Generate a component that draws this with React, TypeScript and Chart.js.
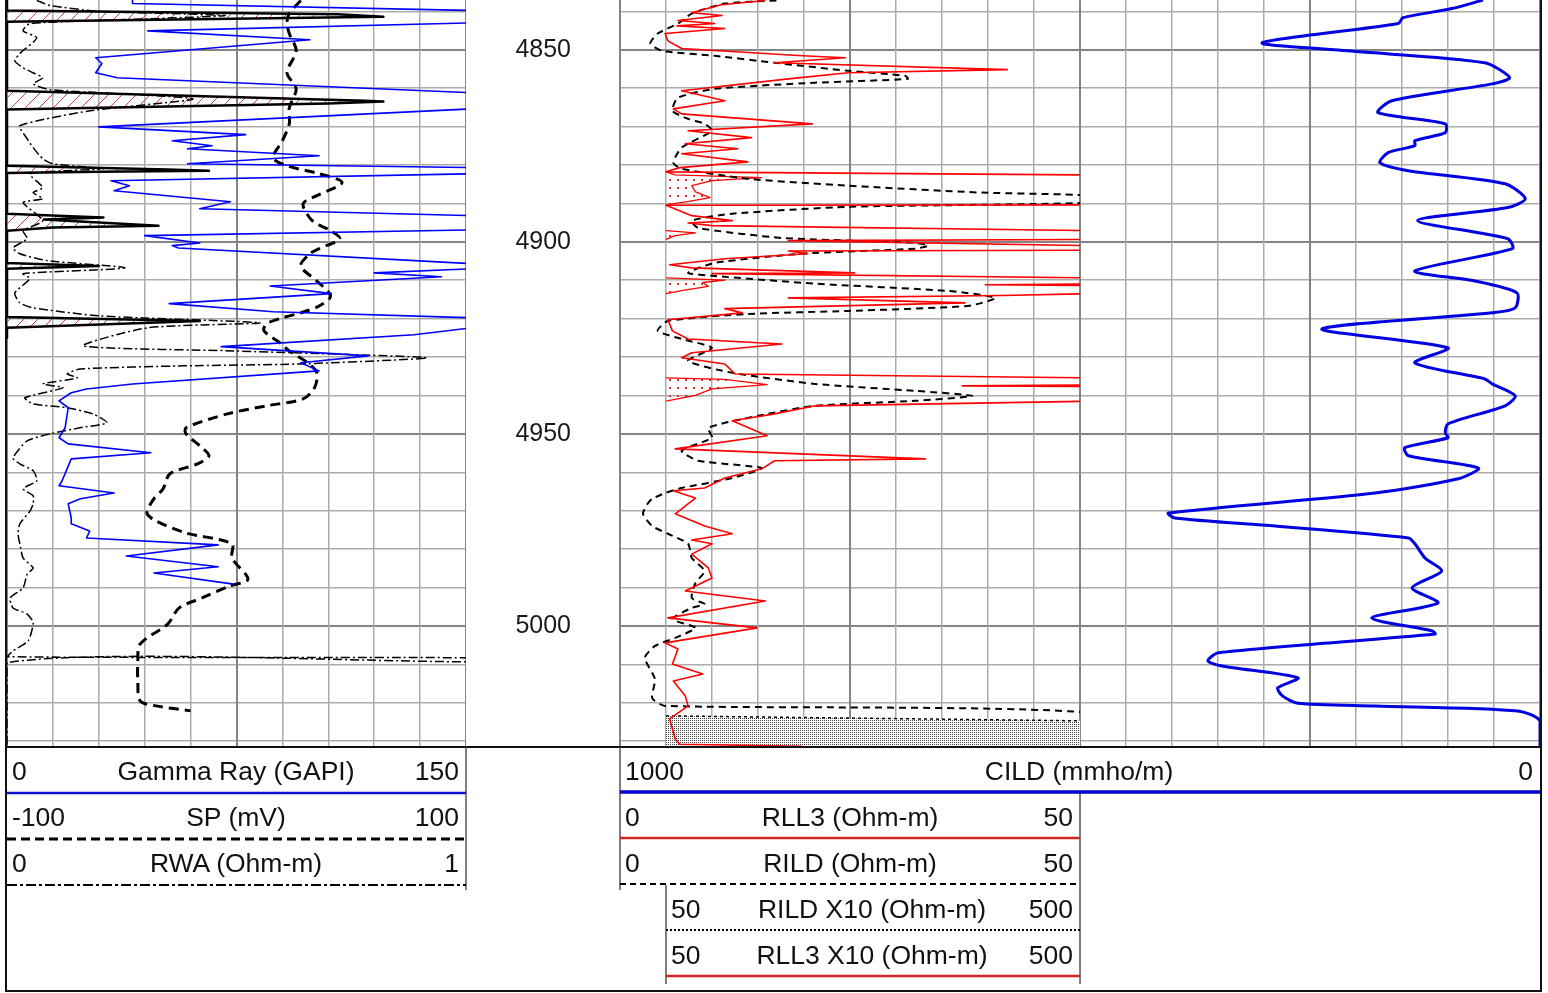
import React, { useEffect, useRef } from 'react';
import { Chart, registerables } from 'chart.js';

Chart.register(...registerables);

const FONT = "'Liberation Sans', Arial, Helvetica, sans-serif";
Chart.defaults.font.family = FONT;

// ---------- depth range / labels ----------
const DEPTH_TOP = 4837.07;
const DEPTH_BOTTOM = 5031.5;
const DEPTH_LABELS = [4850, 4900, 4950, 5000];

type Pair = [number, number | null];

// ---------- Track 1 ----------
// Gamma Ray (GAPI), 0..150  [depth, value]
const grCurve: Pair[] = [
  [4837.2, 41], [4838.0, 41], [4839.8, 152], [4843.0, 152], [4845.1, 46], [4847.4, 99],
  [4852.1, 29], [4853.6, 31], [4856.0, 29], [4857.3, 36], [4861.2, 152], [4865.4, 152],
  [4870.1, 30], [4872.1, 78], [4873.7, 54], [4875.0, 67], [4875.8, 59], [4877.6, 102],
  [4879.7, 59], [4880.7, 152], [4882.3, 152], [4884.1, 34], [4885.4, 40], [4886.7, 35],
  [4889.6, 73], [4891.4, 63], [4893.2, 152], [4896.9, 152], [4898.4, 45], [4900.3, 63],
  [4901.0, 54], [4901.6, 56], [4905.7, 152], [4907.0, 152], [4908.1, 120], [4909.1, 142],
  [4911.5, 86], [4913.5, 106], [4916.1, 53], [4918.2, 87], [4919.8, 152], [4922.4, 152],
  [4924.2, 133], [4927.3, 70], [4929.7, 118], [4931.5, 96], [4933.6, 102], [4937.0, 41],
  [4938.3, 26], [4939.3, 21], [4941.4, 17], [4943.2, 20], [4948.4, 19], [4951.0, 17],
  [4952.6, 20], [4954.9, 47], [4956.5, 21], [4962.2, 18], [4963.5, 17], [4965.4, 35],
  [4966.9, 24], [4968.2, 20], [4971.9, 21], [4973.4, 21], [4975.3, 27], [4977.1, 26],
  [4978.9, 69], [4981.8, 39], [4984.6, 69], [4986.2, 48], [4989.1, 74],
];

// SP (mV), -100..100
const spCurve: Pair[] = [
  [4837.2, 28], [4840.6, 23], [4843.0, 22], [4845.8, 23], [4850.3, 26], [4856.0, 22],
  [4860.2, 26], [4865.1, 23], [4869.3, 23], [4873.7, 20], [4878.1, 16], [4880.2, 22],
  [4882.3, 36], [4884.6, 46], [4888.0, 35], [4890.1, 29], [4894.5, 33], [4897.1, 41],
  [4899.2, 45], [4901.8, 36], [4903.1, 32], [4906.3, 28], [4910.2, 35], [4914.1, 41],
  [4916.7, 36], [4918.5, 28], [4919.8, 20], [4921.4, 13], [4923.2, 12], [4926.3, 19],
  [4928.4, 23], [4931.5, 31], [4934.1, 35], [4938.0, 34], [4940.9, 29], [4942.7, 13],
  [4944.8, -4], [4948.4, -22], [4950.0, -22], [4953.1, -16], [4955.7, -12], [4957.8, -17],
  [4960.4, -29], [4964.3, -32], [4966.9, -36], [4970.6, -39], [4972.7, -35], [4975.8, -22],
  [4978.6, -2], [4982.3, -2], [4987.8, 5], [4989.6, -3], [4992.7, -15], [4995.3, -25],
  [4999.5, -30], [5004.7, -42], [5009.1, -43], [5014.3, -43], [5019.5, -42], [5020.8, -35],
  [5022.1, -20],
];

// RWA (Ohm-m), 0..1
const rwaCurve: Pair[] = [
  [4837.2, 0.065], [4838.5, 0.094], [4840.0, 0.2], [4841.1, 0.475], [4842.0, 0.3], [4843.2, 0.05],
  [4845.1, 0.035], [4846.9, 0.065], [4851.0, 0.028], [4852.9, 0.017], [4854.7, 0.035], [4856.0, 0.057],
  [4857.3, 0.078], [4858.9, 0.057], [4860.4, 0.094], [4862.8, 0.405], [4865.9, 0.181], [4869.8, 0.028],
  [4873.2, 0.044], [4875.5, 0.057], [4878.4, 0.078], [4879.7, 0.1], [4881.0, 0.203], [4882.3, 0.05],
  [4885.9, 0.078], [4887.2, 0.057], [4888.8, 0.078], [4889.8, 0.035], [4894.5, 0.078], [4897.1, 0.035],
  [4899.2, 0.044], [4901.6, 0.013], [4903.1, 0.028], [4904.9, 0.087], [4906.8, 0.257], [4908.3, 0.035],
  [4909.6, 0.05], [4913.3, 0.017], [4915.9, 0.028], [4917.2, 0.057], [4919.3, 0.203], [4921.1, 0.551],
  [4922.4, 0.305], [4927.1, 0.166], [4928.4, 0.492], [4930.2, 0.915], [4931.8, 0.638], [4932.3, 0.383],
  [4933.1, 0.159], [4934.4, 0.131], [4935.4, 0.153], [4937.0, 0.078], [4938.0, 0.122], [4940.6, 0.039],
  [4942.2, 0.057], [4943.2, 0.131], [4944.8, 0.187], [4947.1, 0.218], [4948.4, 0.159], [4950.0, 0.094],
  [4951.8, 0.044], [4956.3, 0.013], [4957.8, 0.028], [4959.6, 0.057], [4962.2, 0.065], [4964.3, 0.035],
  [4966.1, 0.057], [4968.2, 0.057], [4970.1, 0.05], [4973.4, 0.028], [4976.0, 0.024], [4978.6, 0.028],
  [4982.3, 0.035], [4984.9, 0.057], [4986.5, 0.044], [4990.1, 0.035], [4992.7, 0.007], [4995.3, 0.013],
  [4996.9, 0.044], [4999.2, 0.057], [5003.9, 0.046], [5006.5, 0.013], [5008.0, 0.0], [5008.3, 1.02],
  [5009.3, 1.02], [5009.6, 0.0], [5031.5, 0.0],
];

// hatched spike curve (black, red hatch fill), 0..100 % of track
const hatchCurve: Pair[] = [
  [4837.2, 0], [4839.8, 0], [4840.8, 72], [4841.4, 82], [4842.7, 0],
  [4860.7, 0], [4863.3, 78], [4863.5, 82], [4864.0, 70], [4865.6, 0],
  [4880.2, 0], [4881.2, 35], [4881.5, 44], [4881.8, 20], [4882.1, 0],
  [4892.7, 0], [4893.7, 21], [4894.2, 8], [4895.8, 33], [4896.3, 10], [4897.1, 0],
  [4905.5, 0], [4906.3, 20], [4907.0, 0],
  [4919.6, 0], [4920.6, 42], [4922.4, 0], [4925.0, 0],
];

// ---------- Track 2 ----------
// RLL3 (Ohm-m), 0..50
const rll3Curve: Pair[] = [
  [4837.2, 15.8], [4838.3, 11.0], [4840.4, 7.8], [4841.1, 11.1], [4842.4, 6.3], [4843.2, 10.3],
  [4843.8, 6.2], [4844.5, 11.4], [4845.8, 4.9], [4847.7, 5.2], [4849.7, 6.7], [4851.6, 19.8],
  [4852.1, 24.5], [4853.4, 16.8], [4855.2, 42.1], [4856.0, 24.8], [4857.6, 18.3], [4860.7, 6.7],
  [4863.3, 11.4], [4865.4, 5.8], [4866.7, 6.7], [4869.3, 20.9], [4871.1, 7.4], [4872.9, 14.3],
  [4874.5, 7.1], [4875.8, 12.8], [4877.1, 6.7], [4879.2, 13.9], [4880.7, 6.5], [4881.8, 5.0],
  [4882.6, 51], [4890.4, 51], [4890.5, 5.0], [4893.2, 7.8], [4894.5, 12.2], [4895.1, 7.4],
  [4895.8, 10.0], [4897.1, 51], [4899.4, 51], [4899.7, 18.3], [4901.0, 51], [4902.2, 51],
  [4902.4, 18.3], [4903.1, 20.4], [4904.4, 11.4], [4906.0, 5.4], [4906.8, 7.8], [4908.1, 25.5],
  [4908.3, 10.0], [4909.4, 51], [4911.0, 51], [4911.2, 39.7], [4911.4, 51], [4913.5, 51],
  [4914.0, 41.5], [4914.6, 18.3], [4915.9, 37.5], [4917.4, 11.4], [4918.5, 13.3], [4920.3, 5.2],
  [4923.2, 5.7], [4925.3, 7.4], [4926.6, 17.6], [4928.9, 7.8], [4930.2, 6.7], [4931.8, 11.4],
  [4934.4, 12.5], [4935.4, 51], [4937.3, 51], [4937.5, 37.2], [4937.7, 51], [4941.5, 51],
  [4942.7, 21.2], [4944.8, 16.8], [4946.6, 12.2], [4950.5, 16.0], [4953.9, 6.0], [4956.5, 33.2],
  [4957.0, 16.8], [4959.1, 15.4], [4961.5, 11.4], [4964.1, 9.2], [4964.8, 5.8], [4966.7, 8.2],
  [4970.8, 6.0], [4974.0, 9.2], [4976.0, 12.2], [4977.6, 7.8], [4978.6, 10.0], [4981.3, 7.8],
  [4984.9, 9.6], [4987.5, 10.0], [4990.9, 7.1], [4993.5, 15.8], [4997.9, 5.2], [5000.5, 14.9],
  [5004.4, 4.9], [5006.0, 6.3], [5009.9, 5.7], [5012.5, 9.0], [5014.3, 5.8], [5018.2, 7.1],
  [5020.8, 7.4], [5024.2, 5.4], [5029.4, 6.0], [5030.8, 6.5], [5031.3, 19.8],
];

// RILD (Ohm-m), 0..50
const rildCurve: Pair[] = [
  [4837.2, 17.0], [4838.0, 11.4], [4840.6, 7.8], [4843.2, 6.3], [4845.8, 4.1], [4848.4, 3.3],
  [4850.3, 4.6], [4851.6, 10.3], [4853.4, 16.8], [4855.5, 24.8], [4856.8, 31.0], [4857.6, 31.3],
  [4858.6, 21.2], [4860.2, 10.3], [4862.5, 6.3], [4865.9, 5.7], [4868.0, 7.4], [4869.3, 9.2],
  [4871.1, 10.0], [4875.5, 6.7], [4879.4, 5.8], [4881.0, 6.7], [4883.6, 13.9], [4885.4, 24.8],
  [4887.2, 39.3], [4888.0, 51], [4889.8, 51], [4890.9, 24.8], [4892.7, 12.2], [4894.5, 7.8],
  [4896.4, 8.5], [4899.0, 17.6], [4900.3, 32.1], [4901.0, 33.5], [4901.8, 32.1], [4903.1, 19.8],
  [4905.5, 10.3], [4908.1, 7.4], [4908.9, 10.3], [4910.9, 21.2], [4912.8, 35.7], [4914.6, 40.8],
  [4916.7, 37.8], [4918.0, 24.8], [4918.8, 13.9], [4920.6, 5.2], [4923.2, 4.1], [4925.3, 6.7],
  [4927.6, 10.0], [4931.0, 7.4], [4934.1, 12.2], [4937.0, 21.2], [4938.8, 32.1], [4940.1, 38.3],
  [4941.4, 32.1], [4942.7, 21.2], [4945.3, 15.0], [4948.4, 9.6], [4951.0, 10.0], [4954.4, 6.7],
  [4957.0, 8.5], [4958.9, 15.4], [4961.5, 12.2], [4964.1, 6.7], [4965.4, 4.9], [4966.9, 3.5],
  [4968.2, 3.0], [4970.8, 2.5], [4974.0, 3.5], [4976.0, 5.2], [4978.6, 7.4], [4982.3, 7.8],
  [4985.7, 9.2], [4988.8, 8.2], [4992.7, 7.8], [4994.3, 9.2], [4995.3, 7.8], [4998.2, 5.7],
  [5000.5, 8.2], [5003.1, 6.0], [5005.2, 3.8], [5008.3, 2.7], [5013.8, 3.8], [5018.8, 3.5],
  [5020.8, 4.9], [5022.6, 51], [5031.5, 51],
];

// RLL3 X10 backup (Ohm-m), 50..500 ; null breaks the curve
const rll3x10Curve: Pair[] = [
  [4881.8, 50], [4882.6, 60], [4883.3, 154], [4884.1, 100], [4885.4, 78], [4887.0, 82],
  [4888.5, 98], [4889.5, 75], [4890.4, 50], [4890.5, null],
  [4897.1, 50], [4897.7, 82], [4898.4, 60], [4899.4, 50], [4899.5, null],
  [4909.4, 50], [4910.0, 114], [4910.6, 90], [4911.6, 96], [4912.6, 70], [4913.5, 50], [4913.6, null],
  [4935.4, 50], [4935.8, 114], [4937.2, 160], [4938.3, 100], [4940.0, 82], [4941.5, 50],
];

// RILD X10 backup (Ohm-m), 50..500
const rildx10Curve: Pair[] = [
  [5023.4, 50], [5024.7, 505], [5031.5, 505],
];

// ---------- Track 3 ----------
// CILD (mmho/m), 1000..0 across tracks 2-3 (track 3 shows 500..0)
const cildCurve: Pair[] = [
  [4837.1, 62], [4839.3, 96], [4841.7, 149], [4843.2, 154], [4848.2, 302], [4850.3, 209],
  [4853.4, 60], [4857.3, 33], [4858.9, 52], [4863.3, 161], [4866.4, 176], [4869.3, 103],
  [4871.6, 103], [4873.7, 136], [4875.0, 136], [4876.8, 165], [4879.4, 174], [4881.5, 143],
  [4884.9, 38], [4888.8, 16], [4891.1, 35], [4894.5, 133], [4899.2, 35], [4901.8, 30],
  [4907.6, 136], [4910.2, 71], [4913.3, 25], [4917.2, 27], [4918.5, 52], [4922.7, 237],
  [4927.6, 100], [4931.5, 136], [4935.7, 60], [4937.0, 52], [4940.1, 27], [4942.7, 38],
  [4947.4, 100], [4949.7, 103], [4951.0, 100], [4953.6, 147], [4955.7, 143], [4958.9, 67],
  [4961.7, 89], [4965.4, 179], [4970.6, 404], [4971.9, 397], [4974.0, 288], [4977.1, 143],
  [4978.6, 136], [4982.3, 125], [4985.7, 107], [4990.1, 139], [4994.0, 111], [4997.9, 183],
  [5001.3, 117], [5002.1, 114], [5007.0, 350], [5009.1, 361], [5010.4, 346], [5013.5, 263],
  [5016.1, 285], [5018.2, 280], [5020.1, 263], [5020.8, 179], [5022.1, 24], [5024.7, 0],
  [5031.5, 0],
];

// ---------- helpers ----------
const GRID_MINOR = '#ababab';
const GRID_MAJOR = '#848484';

const toPoints = (pairs: Pair[]) => pairs.map(([d, v]) => ({ x: v, y: d }));

function zeroFit(horizontal: boolean, size = 0) {
  return (s: any) => {
    if (horizontal) s.height = size; else s.width = size;
    s.paddingTop = 0; s.paddingBottom = 0; s.paddingLeft = 0; s.paddingRight = 0;
  };
}

function depthScale(showLabels: boolean) {
  return {
    type: 'linear',
    position: 'left',
    min: DEPTH_TOP,
    max: DEPTH_BOTTOM,
    reverse: true,
    afterFit: zeroFit(false, showLabels ? 154 : 0),
    border: { display: false },
    grid: {
      drawTicks: false,
      color: (ctx: any) => (ctx.tick && Math.round(ctx.tick.value) % 50 === 0 ? GRID_MAJOR : GRID_MINOR),
      lineWidth: (ctx: any) => (ctx.tick && Math.round(ctx.tick.value) % 50 === 0 ? 2 : 1.5),
    },
    ticks: {
      display: showLabels,
      stepSize: 10,
      includeBounds: false,
      autoSkip: false,
      padding: 49,
      crossAlign: 'center',
      color: '#1a1a1a',
      font: { size: 25, family: FONT },
      callback: (v: any) => (DEPTH_LABELS.includes(Math.round(v)) ? String(Math.round(v)) : ''),
    },
  };
}

function valueScale(min: number, max: number, opts: { grid?: boolean; step?: number; reverse?: boolean } = {}) {
  const mid = (min + max) / 2;
  const isMajor = (v: number) => Math.abs(v - min) < 1e-6 || Math.abs(v - max) < 1e-6 || Math.abs(v - mid) < 1e-6;
  return {
    type: 'linear',
    position: 'top',
    min,
    max,
    reverse: !!opts.reverse,
    display: !!opts.grid,
    afterFit: zeroFit(true, 0),
    border: { display: false },
    grid: {
      drawTicks: false,
      color: (ctx: any) => (ctx.tick && isMajor(ctx.tick.value) ? GRID_MAJOR : GRID_MINOR),
      lineWidth: (ctx: any) => (ctx.tick && isMajor(ctx.tick.value) ? 2 : 1.5),
    },
    ticks: { display: false, stepSize: opts.step ?? (max - min) / 10 },
  };
}

const patternFillPlugin = {
  id: 'patternFill',
  beforeDatasetsDraw(chart: any) {
    const { ctx, chartArea } = chart;
    chart.data.datasets.forEach((ds: any, i: number) => {
      const pf = ds.patternFill;
      if (!pf) return;
      const meta = chart.getDatasetMeta(i);
      const xs = chart.scales[meta.xAxisID];
      const base = xs.getPixelForValue(pf.base);
      ctx.save();
      ctx.beginPath();
      ctx.rect(chartArea.left, chartArea.top, chartArea.right - chartArea.left, chartArea.bottom - chartArea.top);
      ctx.clip();
      ctx.fillStyle = pf.pattern;
      let run: { x: number; y: number }[] = [];
      const flush = () => {
        if (run.length > 1) {
          ctx.beginPath();
          ctx.moveTo(base, run[0].y);
          run.forEach((p) => ctx.lineTo(p.x, p.y));
          ctx.lineTo(base, run[run.length - 1].y);
          ctx.closePath();
          ctx.fill();
        }
        run = [];
      };
      meta.data.forEach((el: any, j: number) => {
        const raw = ds.data[j];
        if (!raw || raw.x === null || el.skip || !isFinite(el.x)) flush();
        else run.push({ x: el.x, y: el.y });
      });
      flush();
      ctx.restore();
    });
  },
};

function makePattern(size: number, draw: (g: CanvasRenderingContext2D) => void) {
  const c = document.createElement('canvas');
  c.width = size; c.height = size;
  const g = c.getContext('2d')!;
  draw(g);
  return g.createPattern(c, 'repeat')!;
}

function lineDs(label: string, pairs: Pair[], xAxisID: string, style: any) {
  return {
    label,
    data: toPoints(pairs),
    xAxisID,
    yAxisID: 'y',
    pointRadius: 0,
    pointHoverRadius: 0,
    fill: false,
    borderJoinStyle: 'round',
    borderCapStyle: 'butt',
    tension: 0,
    spanGaps: false,
    ...style,
  };
}

function baseOptions(scales: any) {
  return {
    indexAxis: 'y',
    responsive: false,
    animation: false,
    events: [],
    layout: { padding: 0, autoPadding: false },
    plugins: { legend: { display: false }, tooltip: { enabled: false } },
    scales,
  };
}

// ---------- legend rows ----------
const legendRows = [
  { left: 7, right: 466, titleX: 236, cy: 770, lineY: 793, min: '0', title: 'Gamma Ray (GAPI)', max: '150', stroke: '#1010d0', width: 2.5, dash: '' },
  { left: 7, right: 466, titleX: 236, cy: 816, lineY: 839, min: '-100', title: 'SP (mV)', max: '100', stroke: '#000', width: 3, dash: '9 5' },
  { left: 7, right: 466, titleX: 236, cy: 862, lineY: 885, min: '0', title: 'RWA (Ohm-m)', max: '1', stroke: '#000', width: 2, dash: '10 3 3 3' },
  { left: 620, right: 1540, titleX: 1079, cy: 770, lineY: 792, min: '1000', title: 'CILD (mmho/m)', max: '0', stroke: '#0000d0', width: 3.5, dash: '' },
  { left: 620, right: 1080, titleX: 850, cy: 816, lineY: 838, min: '0', title: 'RLL3 (Ohm-m)', max: '50', stroke: '#d42424', width: 2.5, dash: '' },
  { left: 620, right: 1080, titleX: 850, cy: 862, lineY: 884, min: '0', title: 'RILD (Ohm-m)', max: '50', stroke: '#000', width: 2, dash: '6 4' },
  { left: 666, right: 1080, titleX: 872, cy: 908, lineY: 930, min: '50', title: 'RILD X10 (Ohm-m)', max: '500', stroke: '#000', width: 2, dash: '2 2' },
  { left: 666, right: 1080, titleX: 872, cy: 954, lineY: 976, min: '50', title: 'RLL3 X10 (Ohm-m)', max: '500', stroke: '#d42424', width: 2.5, dash: '' },
];

export default function App() {
  const c1 = useRef<HTMLCanvasElement>(null);
  const c2 = useRef<HTMLCanvasElement>(null);
  const c3 = useRef<HTMLCanvasElement>(null);

  useEffect(() => {
    const hatch = makePattern(14, (g) => {
      g.strokeStyle = '#c24a4a';
      g.lineWidth = 1;
      g.beginPath();
      g.moveTo(0, 14); g.lineTo(14, 0);
      g.moveTo(-7, 7); g.lineTo(7, -7);
      g.moveTo(7, 21); g.lineTo(21, 7);
      g.stroke();
    });
    const dots = makePattern(8, (g) => {
      g.fillStyle = '#e23030';
      g.fillRect(3, 3, 2, 2);
    });
    const stipple = makePattern(2, (g) => {
      g.fillStyle = '#fff';
      g.fillRect(0, 0, 2, 2);
      g.fillStyle = '#444';
      g.fillRect(0, 0, 1, 1);
    });

    const chart1 = new Chart(c1.current as any, {
      type: 'line',
      data: {
        datasets: [
          { ...lineDs('Hatch', hatchCurve, 'xHatch', { borderColor: '#000', borderWidth: 2.5 }), patternFill: { base: 0, pattern: hatch } },
          lineDs('Gamma Ray (GAPI)', grCurve, 'xGR', { borderColor: '#0000ff', borderWidth: 1.6 }),
          lineDs('SP (mV)', spCurve, 'xSP', { borderColor: '#000', borderWidth: 3, borderDash: [10, 6], tension: 0.3 }),
          lineDs('RWA (Ohm-m)', rwaCurve, 'xRWA', { borderColor: '#000', borderWidth: 1.5, borderDash: [9, 3, 2, 3], tension: 0.2 }),
        ] as any,
      },
      options: baseOptions({
        y: depthScale(false),
        xGR: valueScale(0, 150, { grid: true, step: 15 }),
        xSP: valueScale(-100, 100),
        xRWA: valueScale(0, 1),
        xHatch: valueScale(0, 100),
      }) as any,
      plugins: [patternFillPlugin],
    });

    const chart2 = new Chart(c2.current as any, {
      type: 'line',
      data: {
        datasets: [
          lineDs('RLL3 (Ohm-m)', rll3Curve, 'xRes', { borderColor: '#ff0000', borderWidth: 1.6 }),
          lineDs('RILD (Ohm-m)', rildCurve, 'xRes', { borderColor: '#000', borderWidth: 2, borderDash: [7, 5], tension: 0.2 }),
          { ...lineDs('RLL3 X10 (Ohm-m)', rll3x10Curve, 'xRes10', { borderColor: '#ff0000', borderWidth: 1.3 }), patternFill: { base: 50, pattern: dots } },
          { ...lineDs('RILD X10 (Ohm-m)', rildx10Curve, 'xRes10', { borderColor: '#000', borderWidth: 1.5, borderDash: [3, 3] }), patternFill: { base: 50, pattern: stipple } },
        ] as any,
      },
      options: baseOptions({
        y: depthScale(true),
        xRes: valueScale(0, 50, { grid: true, step: 5 }),
        xRes10: valueScale(0, 500),
      }) as any,
      plugins: [patternFillPlugin],
    });

    const chart3 = new Chart(c3.current as any, {
      type: 'line',
      data: {
        datasets: [
          lineDs('CILD (mmho/m)', cildCurve, 'xCILD', { borderColor: '#0000e0', borderWidth: 3, tension: 0.25 }),
        ] as any,
      },
      options: baseOptions({
        y: depthScale(false),
        xCILD: valueScale(0, 500, { grid: true, step: 50, reverse: true }),
      }) as any,
      plugins: [patternFillPlugin],
    });

    return () => {
      chart1.destroy();
      chart2.destroy();
      chart3.destroy();
    };
  }, []);

  return (
    <div style={{ position: 'fixed', left: 0, top: 0, width: 1548, height: 993, background: '#fff', overflow: 'hidden' }}>
      <canvas ref={c1} width={459} height={747} style={{ position: 'absolute', left: 7, top: 0 }} />
      <canvas ref={c2} width={614} height={747} style={{ position: 'absolute', left: 466, top: 0 }} />
      <canvas ref={c3} width={460} height={747} style={{ position: 'absolute', left: 1080, top: 0 }} />
      <svg width={1548} height={993} style={{ position: 'absolute', left: 0, top: 0, pointerEvents: 'none' }}>
        <rect x={6} y={-10} width={1535} height={1001} fill="none" stroke="#111" strokeWidth={2} />
        <line x1={5} x2={1542} y1={747} y2={747} stroke="#111" strokeWidth={2} />
        <line x1={466} x2={466} y1={747} y2={890} stroke="#555" strokeWidth={1.5} />
        <line x1={620} x2={620} y1={747} y2={890} stroke="#555" strokeWidth={1.5} />
        <line x1={1080} x2={1080} y1={793} y2={984} stroke="#555" strokeWidth={1.5} />
        <line x1={666} x2={666} y1={885} y2={984} stroke="#555" strokeWidth={1.5} />
        {legendRows.map((r, i) => (
          <g key={i} fontFamily={FONT} fontSize={26.5} fill="#111">
            <text x={r.left + 5} y={r.cy + 9.5} textAnchor="start">{r.min}</text>
            <text x={r.titleX} y={r.cy + 9.5} textAnchor="middle">{r.title}</text>
            <text x={r.right - 7} y={r.cy + 9.5} textAnchor="end">{r.max}</text>
            <line x1={r.left} x2={r.right} y1={r.lineY} y2={r.lineY} stroke={r.stroke} strokeWidth={r.width} strokeDasharray={r.dash || undefined} />
          </g>
        ))}
      </svg>
    </div>
  );
}
